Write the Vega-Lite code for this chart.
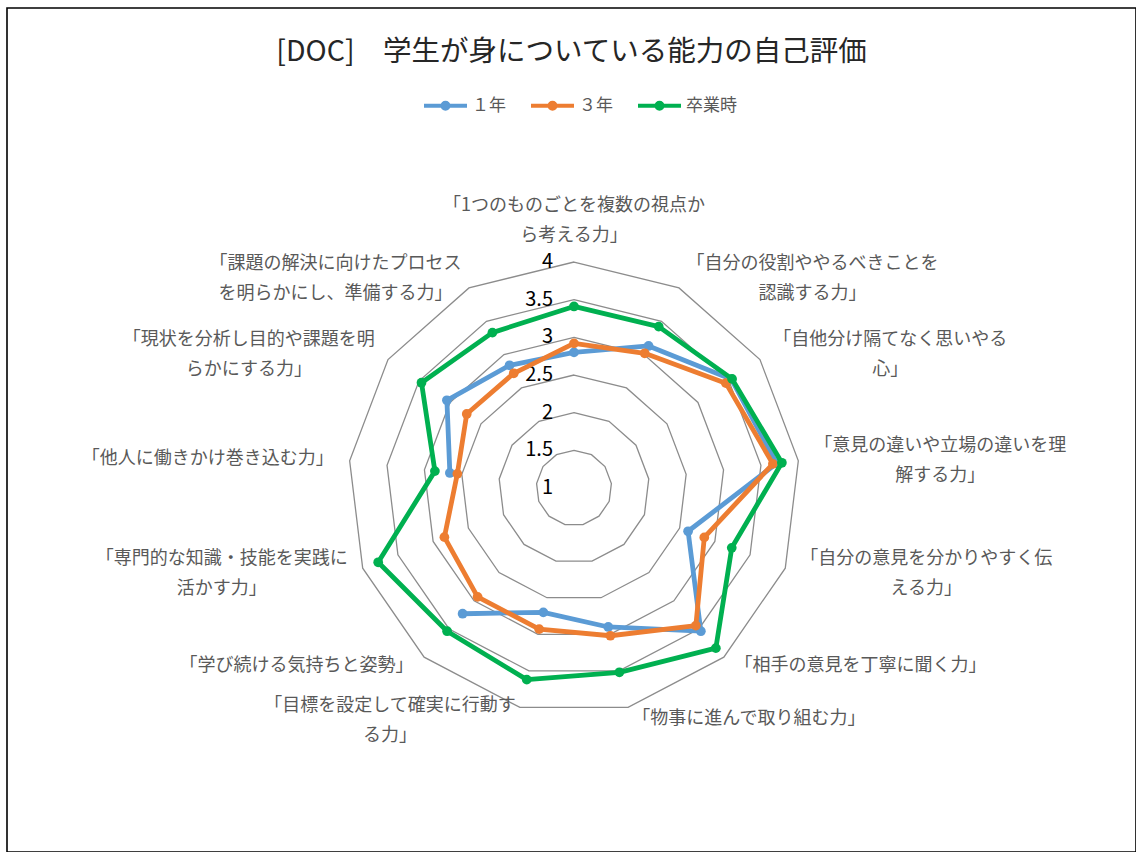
{
  "$schema": "https://vega.github.io/schema/vega-lite/v6.json",
  "width": 1129,
  "height": 844,
  "autosize": "none",
  "padding": {"left": 7, "top": 8, "right": 0, "bottom": 0},
  "background": "#ffffff",
  "config": {"font": "Noto Sans CJK JP", "view": {"stroke": "#000000", "strokeWidth": 1.6}},
  "title": {"text": "[DOC]　学生が身についている能力の自己評価", "fontSize": 28.5, "fontWeight": "normal", "color": "#262626", "anchor": "middle", "baseline": "middle", "offset": -40, "dy": 32},
  "datasets": {
    "scores": [
      {"i": 0, "series": "１年", "value": 2.80}, {"i": 0, "series": "３年", "value": 2.92}, {"i": 0, "series": "卒業時", "value": 3.41},
      {"i": 1, "series": "１年", "value": 3.13}, {"i": 1, "series": "３年", "value": 3.02}, {"i": 1, "series": "卒業時", "value": 3.42},
      {"i": 2, "series": "１年", "value": 3.54}, {"i": 2, "series": "３年", "value": 3.45}, {"i": 2, "series": "卒業時", "value": 3.55},
      {"i": 3, "series": "１年", "value": 3.71}, {"i": 3, "series": "３年", "value": 3.66}, {"i": 3, "series": "卒業時", "value": 3.78},
      {"i": 4, "series": "１年", "value": 2.62}, {"i": 4, "series": "３年", "value": 2.85}, {"i": 4, "series": "卒業時", "value": 3.24},
      {"i": 5, "series": "１年", "value": 3.54}, {"i": 5, "series": "３年", "value": 3.44}, {"i": 5, "series": "卒業時", "value": 3.84},
      {"i": 6, "series": "１年", "value": 2.90}, {"i": 6, "series": "３年", "value": 3.02}, {"i": 6, "series": "卒業時", "value": 3.52},
      {"i": 7, "series": "１年", "value": 2.70}, {"i": 7, "series": "３年", "value": 2.93}, {"i": 7, "series": "卒業時", "value": 3.62},
      {"i": 8, "series": "１年", "value": 3.23}, {"i": 8, "series": "３年", "value": 2.93}, {"i": 8, "series": "卒業時", "value": 3.54},
      {"i": 9, "series": "１年", "value": null}, {"i": 9, "series": "３年", "value": 2.84}, {"i": 9, "series": "卒業時", "value": 3.78},
      {"i": 10, "series": "１年", "value": 2.66}, {"i": 10, "series": "３年", "value": 2.56}, {"i": 10, "series": "卒業時", "value": 2.86},
      {"i": 11, "series": "１年", "value": 3.05}, {"i": 11, "series": "３年", "value": 2.73}, {"i": 11, "series": "卒業時", "value": 3.46},
      {"i": 12, "series": "１年", "value": 2.84}, {"i": 12, "series": "３年", "value": 2.72}, {"i": 12, "series": "卒業時", "value": 3.33}
    ],
    "cats": [
      {"i": 0, "label": "「1つのものごとを複数の視点か\nら考える力」"},
      {"i": 1, "label": "「自分の役割ややるべきことを\n認識する力」"},
      {"i": 2, "label": "「自他分け隔てなく思いやる\n心」"},
      {"i": 3, "label": "「意見の違いや立場の違いを理\n解する力」"},
      {"i": 4, "label": "「自分の意見を分かりやすく伝\nえる力」"},
      {"i": 5, "label": "「相手の意見を丁寧に聞く力」"},
      {"i": 6, "label": "「物事に進んで取り組む力」"},
      {"i": 7, "label": "「目標を設定して確実に行動す\nる力」"},
      {"i": 8, "label": "「学び続ける気持ちと姿勢」"},
      {"i": 9, "label": "「専門的な知識・技能を実践に\n活かす力」"},
      {"i": 10, "label": "「他人に働きかけ巻き込む力」"},
      {"i": 11, "label": "「現状を分析し目的や課題を明\nらかにする力」"},
      {"i": 12, "label": "「課題の解決に向けたプロセス\nを明らかにし、準備する力」"}
    ],
    "rings": [
      {"level": 1.5, "i": [0,1,2,3,4,5,6,7,8,9,10,11,12]},
      {"level": 2, "i": [0,1,2,3,4,5,6,7,8,9,10,11,12]},
      {"level": 2.5, "i": [0,1,2,3,4,5,6,7,8,9,10,11,12]},
      {"level": 3, "i": [0,1,2,3,4,5,6,7,8,9,10,11,12]},
      {"level": 3.5, "i": [0,1,2,3,4,5,6,7,8,9,10,11,12]},
      {"level": 4, "i": [0,1,2,3,4,5,6,7,8,9,10,11,12]}
    ],
    "ticks": [{"level": 1}, {"level": 1.5}, {"level": 2}, {"level": 2.5}, {"level": 3}, {"level": 3.5}, {"level": 4}]
  },
  "encoding": {
    "x": {"field": "px", "type": "quantitative", "scale": {"domain": [-7.527, 7.461], "nice": false, "zero": false}, "axis": null},
    "y": {"field": "py", "type": "quantitative", "scale": {"domain": [-4.832, 6.372], "nice": false, "zero": false}, "axis": null},
    "color": {
      "field": "series", "type": "nominal",
      "scale": {"domain": ["１年", "３年", "卒業時"], "range": ["#5B9BD5", "#ED7D31", "#00B050"]},
      "legend": {
        "orient": "none", "legendX": 415, "legendY": 74, "direction": "horizontal", "title": null,
        "symbolType": "M -1 0 L 1 0 M -0.14 0 A 0.14 0.14 0 1 0 0.14 0 A 0.14 0.14 0 1 0 -0.14 0",
        "symbolSize": 1849, "symbolStrokeWidth": 4, "labelFontSize": 17, "labelColor": "#595959",
        "columnPadding": 17, "labelOffset": 3, "padding": 0,
        "encode": {"symbols": {"update": {"fill": {"scale": "color", "field": "value"}, "stroke": {"scale": "color", "field": "value"}, "opacity": {"value": 1}}}}
      }
    }
  },
  "layer": [
    {
      "data": {"name": "rings"},
      "transform": [
        {"flatten": ["i"]},
        {"calculate": "datum.i * 2 * PI / 13", "as": "t"},
        {"calculate": "(datum.level - 1) * sin(datum.t)", "as": "px"},
        {"calculate": "(datum.level - 1) * cos(datum.t)", "as": "py"}
      ],
      "mark": {"type": "line", "interpolate": "linear-closed", "strokeWidth": 1.3},
      "encoding": {
        "color": {"value": "#8c8c8c"},
        "detail": {"field": "level", "type": "nominal"},
        "order": {"field": "i", "type": "quantitative"}
      }
    },
    {
      "data": {"name": "ticks"},
      "transform": [
        {"calculate": "0", "as": "px"},
        {"calculate": "datum.level - 1", "as": "py"}
      ],
      "mark": {"type": "text", "align": "right", "baseline": "middle", "dx": -21, "fontSize": 20},
      "encoding": {
        "text": {"field": "level", "type": "quantitative", "format": "~g"},
        "color": {"value": "#000000"}
      }
    },
    {
      "data": {"name": "cats"},
      "transform": [
        {"calculate": "datum.i * 2 * PI / 13", "as": "t"},
        {"calculate": "sin(datum.t)", "as": "s"},
        {"calculate": "cos(datum.t)", "as": "c"},
        {"calculate": "length(split(datum.label, '\\n')[0]) * 18", "as": "w"},
        {"calculate": "length(split(datum.label, '\\n')) - 1", "as": "extra"},
        {"calculate": "abs(datum.s) < 0.05 ? 0 : (datum.s > 0 ? 1 : -1)", "as": "sg"},
        {"calculate": "3 * datum.s + (16 * datum.s + datum.sg * datum.w / 2) / 75.33", "as": "px"},
        {"calculate": "3 * datum.c + (12 * datum.c + (datum.c > 0.95 ? 31 : 0) + datum.extra * 13) / 75.33", "as": "py"}
      ],
      "mark": {"type": "text", "align": "center", "baseline": "middle", "lineBreak": "\n", "lineHeight": 30, "fontSize": 18},
      "encoding": {
        "text": {"field": "label", "type": "nominal"},
        "color": {"value": "#595959"}
      }
    },
    {
      "data": {"name": "scores"},
      "transform": [
        {"filter": "datum.series === '１年' && isValid(datum.value)"},
        {"calculate": "datum.i * 2 * PI / 13", "as": "t"},
        {"calculate": "(datum.value - 1) * sin(datum.t)", "as": "px"},
        {"calculate": "(datum.value - 1) * cos(datum.t)", "as": "py"},
        {"calculate": "(datum.i + 3) % 13", "as": "o"}
      ],
      "layer": [
        {"mark": {"type": "line", "interpolate": "linear", "strokeWidth": 4.8, "strokeJoin": "round"}, "encoding": {"order": {"field": "o", "type": "quantitative"}}},
        {"mark": {"type": "point", "shape": "circle", "filled": true, "opacity": 1, "size": 95}}
      ]
    },
    {
      "data": {"name": "scores"},
      "transform": [
        {"filter": "datum.series === '３年' && isValid(datum.value)"},
        {"calculate": "datum.i * 2 * PI / 13", "as": "t"},
        {"calculate": "(datum.value - 1) * sin(datum.t)", "as": "px"},
        {"calculate": "(datum.value - 1) * cos(datum.t)", "as": "py"}
      ],
      "layer": [
        {"mark": {"type": "line", "interpolate": "linear-closed", "strokeWidth": 4.8, "strokeJoin": "round"}, "encoding": {"order": {"field": "i", "type": "quantitative"}}},
        {"mark": {"type": "point", "shape": "circle", "filled": true, "opacity": 1, "size": 95}}
      ]
    },
    {
      "data": {"name": "scores"},
      "transform": [
        {"filter": "datum.series === '卒業時' && isValid(datum.value)"},
        {"calculate": "datum.i * 2 * PI / 13", "as": "t"},
        {"calculate": "(datum.value - 1) * sin(datum.t)", "as": "px"},
        {"calculate": "(datum.value - 1) * cos(datum.t)", "as": "py"}
      ],
      "layer": [
        {"mark": {"type": "line", "interpolate": "linear-closed", "strokeWidth": 4.8, "strokeJoin": "round"}, "encoding": {"order": {"field": "i", "type": "quantitative"}}},
        {"mark": {"type": "point", "shape": "circle", "filled": true, "opacity": 1, "size": 95}}
      ]
    }
  ]
}
